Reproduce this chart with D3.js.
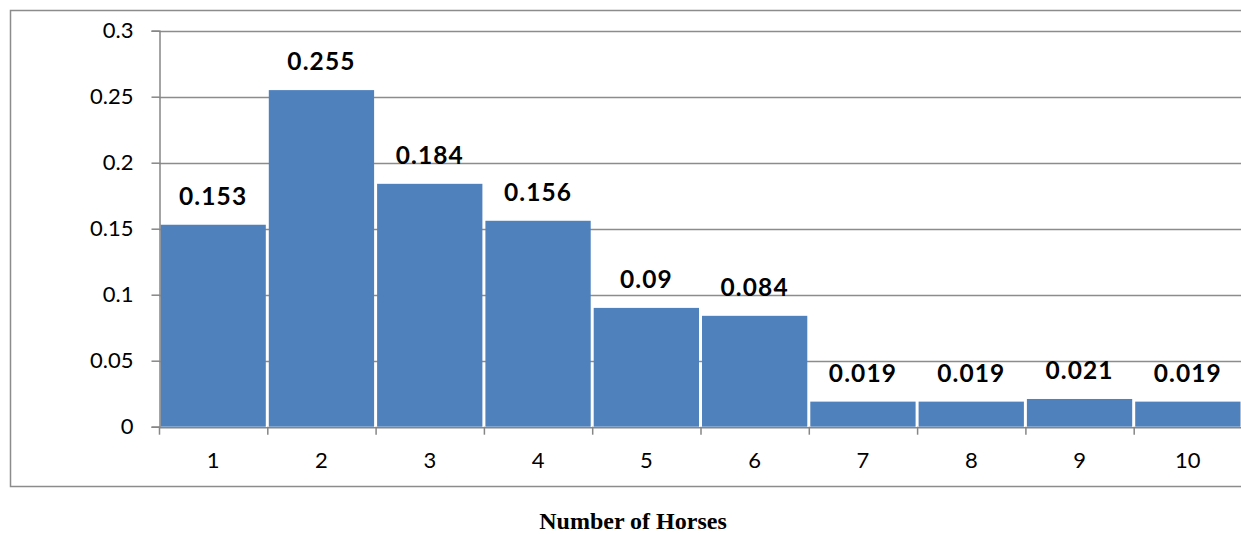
<!DOCTYPE html>
<html>
<head>
<meta charset="utf-8">
<script src="https://cdnjs.cloudflare.com/ajax/libs/d3/7.8.5/d3.min.js"></script>
<style>
  body { margin: 0; background: #fff; }
  svg { display: block; }
</style>
</head>
<body>
<div id="chart"></div>
<script>
(function() {
  var width = 1241,
    height = 534;

  var horses = ["1", "2", "3", "4", "5", "6", "7", "8", "9", "10"];
  var probs = [0.153, 0.255, 0.184, 0.156, 0.09, 0.084, 0.019, 0.019, 0.021, 0.019];
  var labels = ["0.153", "0.255", "0.184", "0.156", "0.09", "0.084", "0.019", "0.019", "0.021", "0.019"];
  var yTicks = [0, 0.05, 0.1, 0.15, 0.2, 0.25, 0.3];

  var svg = d3.select("#chart")
    .append("svg")
    .attr("width", width)
    .attr("height", height)

  // outer frame of the chart area (right side runs off the page)
  svg.append("rect")
    .attr("x", 10.5)
    .attr("y", 10.5)
    .attr("width", 1260)
    .attr("height", 476)
    .attr("fill", "none")
    .attr("stroke", "#8c8c8c")
    .attr("stroke-width", 1.5)

  var left = 159, right = 1242, top = 30.7, bottom = 426.7;

  var x = d3.scaleBand().domain(horses).range([left, right]).padding(0)
  var y = d3.scaleLinear().domain([0, 0.3]).range([bottom, top])

  // gridlines
  svg.append("g")
    .selectAll("line")
    .data(yTicks.filter(function(d) { return d > 0 }))
    .enter().append("line")
    .attr("x1", left)
    .attr("x2", width + 5)
    .attr("y1", function(d) { return Math.round(y(d)) + 0.5 })
    .attr("y2", function(d) { return Math.round(y(d)) + 0.5 })
    .attr("stroke", "#8c8c8c")
    .attr("stroke-width", 1.3)

  // bars
  svg.append("g")
    .selectAll("rect")
    .data(probs)
    .enter().append("rect")
    .attr("x", function(d, i) { return x(horses[i]) + 1.5 })
    .attr("width", x.bandwidth() - 3)
    .attr("y", function(d) { return y(d) })
    .attr("height", function(d) { return bottom - y(d) })
    .attr("fill", "#4f81bd")

  // value labels
  svg.append("g")
    .selectAll("text")
    .data(probs)
    .enter().append("text")
    .attr("x", function(d, i) { return x(horses[i]) + x.bandwidth() / 2 })
    .attr("y", function(d) { return y(d) - 20 })
    .attr("text-anchor", "middle")
    .attr("font-family", "Lato, 'Open Sans', sans-serif")
    .attr("font-weight", "bold")
    .attr("font-size", 24.5)
    .attr("letter-spacing", 1.1)
    .attr("fill", "#000")
    .text(function(d, i) { return labels[i] })

  // y axis
  var yAxis = svg.append("g")
    .attr("transform", "translate(" + (left + 0.5) + ",0)")
    .call(d3.axisLeft(y).tickValues(yTicks).tickSize(8).tickPadding(18)
      .tickFormat(function(d) { return String(d) }))
  yAxis.select(".domain").attr("stroke", "#868686").attr("stroke-width", 1.5)
  yAxis.selectAll(".tick line").attr("stroke", "#868686").attr("stroke-width", 1.5)
  yAxis.selectAll(".tick text")
    .attr("font-family", "Lato, 'Open Sans', sans-serif")
    .attr("font-size", 22)
    .attr("fill", "#000")

  // x axis
  var xAxis = svg.append("g")
    .attr("transform", "translate(0," + (bottom + 0.5) + ")")
    .call(d3.axisBottom(x).tickSize(0).tickPadding(25))
  xAxis.select(".domain").attr("stroke", "#868686").attr("stroke-width", 1.5)
  xAxis.selectAll(".tick text")
    .attr("font-family", "Lato, 'Open Sans', sans-serif")
    .attr("font-size", 22)
    .attr("fill", "#000")

  // boundary ticks between categories
  svg.append("g")
    .selectAll("line")
    .data(horses)
    .enter().append("line")
    .attr("x1", function(d) { return x(d) + 0.5 })
    .attr("x2", function(d) { return x(d) + 0.5 })
    .attr("y1", bottom)
    .attr("y2", bottom + 8)
    .attr("stroke", "#868686")
    .attr("stroke-width", 1.5)

  svg.append("text")
    .attr("x", 633)
    .attr("y", 529)
    .attr("text-anchor", "middle")
    .attr("font-family", "'Liberation Serif', 'Times New Roman', serif")
    .attr("font-weight", "bold")
    .attr("font-size", 24)
    .attr("fill", "#000")
    .text("Number of Horses")
})();
</script>
</body>
</html>
